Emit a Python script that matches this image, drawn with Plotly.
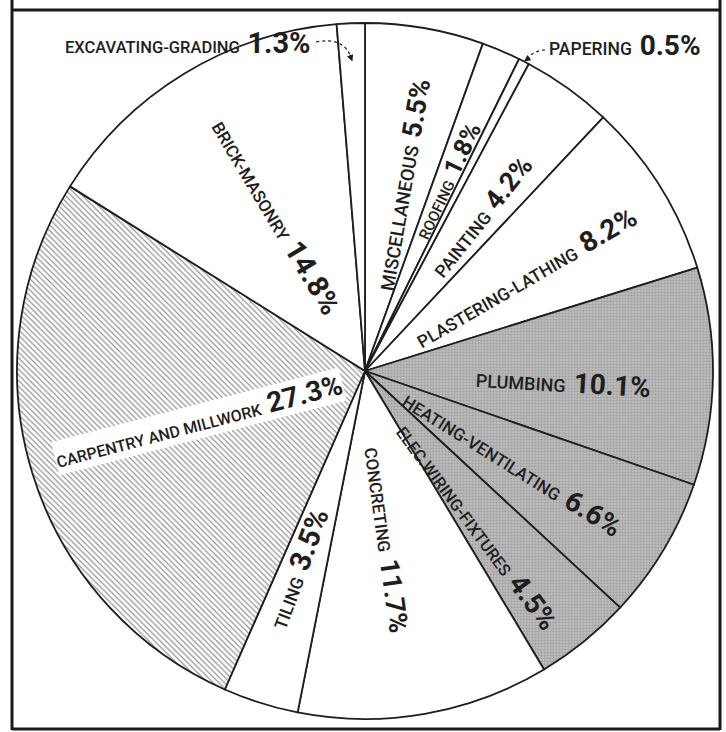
import math
import plotly.graph_objects as go

# ---------------- data ----------------
categories = ["MISCELLANEOUS", "ROOFING", "PAPERING", "PAINTING",
              "PLASTERING-LATHING", "PLUMBING", "HEATING-VENTILATING",
              "ELEC.WIRING-FIXTURES", "CONCRETING", "TILING",
              "CARPENTRY AND MILLWORK", "BRICK-MASONRY", "EXCAVATING-GRADING"]
shares = [5.5, 1.8, 0.5, 4.2, 8.2, 10.1, 6.6, 4.5, 11.7, 3.5, 27.3, 14.8, 1.3]
pct_labels = ["5.5%", "1.8%", "0.5%", "4.2%", "8.2%", "10.1%", "6.6%",
              "4.5%", "11.7%", "3.5%", "27.3%", "14.8%", "1.3%"]
fill_kind = ["plain", "plain", "plain", "plain", "plain", "grey", "grey",
             "grey", "plain", "plain", "hatch", "plain", "plain"]

# ---------------- style ----------------
W, H = 726, 732
CX, CY, R = 365, 371, 348          # pie centre / radius in px
INK = "#1e1e1e"
FONT = "Roboto, Liberation Sans, Arial, sans-serif"

# label placement (radius fraction, angular nudge, text-angle tweak), font sizes
label_r = [0.546, 0.597, None, 0.555, 0.535, 0.57, 0.50, 0.55, 0.49, 0.60, 0.50, 0.51, None]
label_nudge = [1.6, 0.2, 0, 1.4, 1.8, 2.3, 1.0, 3.2, 2.9, 1.4, 0.2, 1.3, 0]
angle_tweak = [0, 2.5, 0, 3, 2, 2.5, 1, 2.5, 2, 3, 2.5, 0.5, 0]
label_fs = [18.5, 15, 17.5, 17.5, 17.5, 18, 17, 16.5, 17, 17.5, 16, 17, 16.5]
pct_fs = [27, 25, 28, 27, 28, 28, 28, 28, 27, 29, 28, 29, 29]

pat_shape, pat_fg, pat_bg, pat_sol, colors = [], [], [], [], []
for k in fill_kind:
    if k == "grey":
        pat_shape.append("."); pat_fg.append("#9e9e9e"); pat_bg.append("#bcbcbc"); pat_sol.append(0.4)
        colors.append("#bcbcbc")
    elif k == "hatch":
        pat_shape.append("\\"); pat_fg.append("#969696"); pat_bg.append("#ffffff"); pat_sol.append(0.32)
        colors.append("#ffffff")
    else:
        pat_shape.append(""); pat_fg.append("#ffffff"); pat_bg.append("#ffffff"); pat_sol.append(0.3)
        colors.append("#ffffff")

pat_size = [3 if k == "grey" else 4 for k in fill_kind]

fig = go.Figure(go.Pie(
    labels=categories, values=shares, sort=False, direction="clockwise",
    rotation=0, textinfo="none", hoverinfo="label+percent",
    marker=dict(colors=colors, line=dict(color=INK, width=1.8),
                pattern=dict(shape=pat_shape, fgcolor=pat_fg, bgcolor=pat_bg,
                             solidity=pat_sol, size=pat_size, fillmode="replace")),
    domain=dict(x=[(CX - R) / W, (CX + R) / W],
                y=[(H - CY - R) / H, (H - CY + R) / H]),
    showlegend=False,
))

def to_paper(px, py):
    return px / W, 1 - py / H

def polar(frac, ang_deg):
    a = math.radians(ang_deg)
    return CX + frac * R * math.sin(a), CY - frac * R * math.cos(a)

def rich(i):
    return (f"<span style='font-size:{label_fs[i]}px;font-weight:500'>{categories[i]}&nbsp;</span> "
            f"<span style='font-size:{pct_fs[i]}px;font-weight:700'>{pct_labels[i]}</span>")

total = sum(shares)
annotations = []
cum = 0.0
mids = []
for i, v in enumerate(shares):
    mid = (cum + v / 2) / total * 360
    mids.append(mid)
    cum += v
    if label_r[i] is None:
        continue
    t = mid - 90
    t = (t + 180) % 360 - 180
    if t > 90:
        t -= 180
    elif t < -90:
        t += 180
    t += angle_tweak[i]
    px, py = polar(label_r[i], mid + label_nudge[i])
    x, y = to_paper(px, py)
    annotations.append(dict(
        x=x, y=y, xref="paper", yref="paper", text=rich(i), showarrow=False,
        textangle=t, xanchor="center", yanchor="middle",
        font=dict(family=FONT, color=INK, size=14),
        bgcolor="#ffffff" if fill_kind[i] == "hatch" else "rgba(0,0,0,0)",
        borderpad=0,
    ))

shapes = []

# outside labels with dashed curved pointers
def outside(i, text_px, text_py, anchor, start, ctrl, target_frac, tail):
    tx, ty = to_paper(text_px, text_py)
    annotations.append(dict(x=tx, y=ty, xref="paper", yref="paper", text=rich(i),
                            showarrow=False, xanchor=anchor, yanchor="middle",
                            font=dict(family=FONT, color=INK, size=14)))
    ex, ey = polar(target_frac, mids[i])
    sx, sy = to_paper(*start)
    cx_, cy_ = to_paper(*ctrl)
    ex_p, ey_p = to_paper(ex, ey)
    shapes.append(dict(type="path", xref="paper", yref="paper",
                       path=f"M {sx} {sy} Q {cx_} {cy_} {ex_p} {ey_p}",
                       line=dict(color=INK, width=1.2, dash="dot")))
    annotations.append(dict(x=ex_p, y=ey_p, xref="paper", yref="paper", text="",
                            showarrow=True, arrowhead=2, arrowsize=1.1, arrowwidth=1.2,
                            arrowcolor=INK, ax=tail[0], ay=tail[1], standoff=0))

exc = categories.index("EXCAVATING-GRADING")
outside(exc, 313, 43, "right", (316, 42), (346, 36), 0.89, (-3, -8))
pap = categories.index("PAPERING")
outside(pap, 547, 45, "left", (545, 50), (534, 50), 1.0, (7, -5))

# frame
frame_col = "#1a1a1a"
for (x0, y0, x1, y1) in [(12, 0, 12, 730), (720, 0, 720, 730),
                         (12, 10, 720, 10), (12, 729, 720, 729)]:
    a0, b0 = to_paper(x0, y0)
    a1, b1 = to_paper(x1, y1)
    shapes.append(dict(type="line", xref="paper", yref="paper", x0=a0, y0=b0,
                       x1=a1, y1=b1, line=dict(color=frame_col, width=3)))

fig.update_layout(width=W, height=H, margin=dict(l=0, r=0, t=0, b=0),
                  paper_bgcolor="#ffffff", plot_bgcolor="#ffffff",
                  annotations=annotations, shapes=shapes)

fig.write_html("out.html", config={"displayModeBar": False},
               post_script="document.body.style.margin='0';document.body.style.overflow='hidden';")
